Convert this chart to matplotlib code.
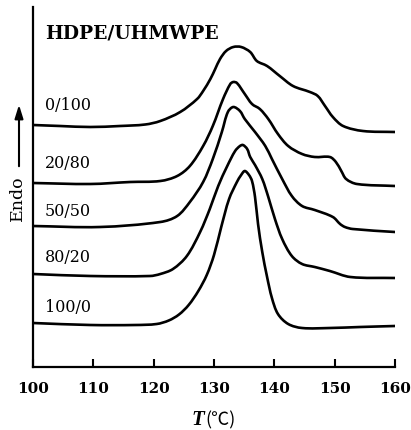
import matplotlib
matplotlib.use("Agg")
import matplotlib.pyplot as plt
import numpy as np
from matplotlib.path import Path
from matplotlib.patches import PathPatch

plt.rcParams['font.family'] = ['DejaVu Serif', 'DejaVu Sans']

# Data (temperature in degC, endothermic signal in arbitrary units)
t_0_100 = [100.0, 104.5, 109.5, 114.4, 118.6, 121.1, 124.4, 127.2, 128.2, 129.4, 130.2, 131.0,
           132.0, 133.2, 134.5, 136.0, 137.1, 138.8, 140.9, 143.1, 145.9, 147.2, 148.4, 149.7,
           151.4, 154.7, 160.0]
s_0_100 = [242, 241, 240, 241, 242.5, 246, 255, 268, 276, 288, 298, 308,
           316, 320, 320, 315, 306, 301, 291, 281, 275, 271, 261, 250,
           241, 236, 235]

t_20_80 = [100.0, 109.5, 116.1, 121.1, 123.9, 126.0, 128.2, 129.8, 131.5, 132.7, 133.2, 133.8, 135.1,
           136.3, 137.6, 139.0, 140.6, 142.3, 144.6, 146.7, 149.2, 150.2, 151.1, 151.9, 153.7, 160.0]
s_20_80 = [184, 183, 185, 186, 191, 201, 221, 241, 268, 283, 285, 284, 273,
           263, 258, 248, 233, 221, 213, 210, 210, 205, 196, 188, 183, 181]

t_50_50 = [100.0, 111.1, 121.1, 123.9, 126.0, 128.2, 129.8, 131.3, 132.3, 133.2, 134.3, 135.1,
           136.8, 138.5, 139.6, 141.3, 142.9, 144.6, 146.7, 149.7, 150.9, 151.7, 153.0, 160.0]
s_50_50 = [141, 140, 145, 151, 165, 185, 208, 235, 255, 260, 256, 248,
           235, 221, 208, 188, 171, 161, 157, 150, 143, 140, 138, 135]

t_80_20 = [100.0, 109.5, 119.4, 121.1, 123.2, 125.5, 127.7, 129.3, 130.7, 132.2, 133.5, 134.3, 134.8,
           135.5, 136.0, 136.8, 138.0, 139.0, 140.1, 141.3, 142.9, 144.6, 146.7, 149.2, 152.6, 160.0]
s_80_20 = [93, 91, 91, 93, 98, 111, 135, 158, 181, 201, 216, 221, 222,
           218, 210, 202, 188, 170, 148, 128, 111, 103, 100, 96, 90, 89]

t_100_0 = [100.0, 109.5, 117.0, 120.5, 122.5, 124.2, 125.8, 127.4, 128.8, 130.0, 131.2, 132.5,
           133.8, 134.5, 135.1, 135.8, 136.3, 136.8, 137.3, 138.0, 138.8, 139.6, 140.6, 142.3,
           144.6, 149.2, 154.2, 160.0]
s_100_0 = [44, 42, 42, 43, 46.5, 52.5, 62, 76, 92, 112, 140, 168,
           185, 192, 196, 192, 186, 170, 143, 115, 90, 69, 53, 43,
           39, 39, 40, 41]

series_labels = ["0/100", "20/80", "50/50", "80/20", "100/0"]
label_y = [263, 205, 156, 110, 60]
xticks = [100, 110, 120, 130, 140, 150, 160]
title = "HDPE/UHMWPE"

fig = plt.figure(figsize=(4.11, 4.31), dpi=100)
ax = fig.add_axes([33 / 411, 63 / 431, 362 / 411, 360 / 431])
ax.set_xlim(100, 160)
ax.set_ylim(0, 360)


def smooth_path(t, s):
    """Bezier path passing through the read points (drawing style only)."""
    pts = np.column_stack([t, s]).astype(float)
    disp = ax.transData.transform(pts)
    n = len(pts)
    d = np.hypot(*np.diff(disp, axis=0).T)
    tang = np.zeros_like(pts)
    tang[1:-1] = pts[2:] - pts[:-2]
    tang[0] = pts[1] - pts[0]
    tang[-1] = pts[-1] - pts[-2]
    verts = [pts[0]]
    codes = [Path.MOVETO]
    for i in range(n - 1):
        a = 1 / 3 if i == 0 else d[i] / (d[i - 1] + d[i]) / 3
        b = 1 / 3 if i == n - 2 else d[i] / (d[i] + d[i + 1]) / 3
        c1 = pts[i] + tang[i] * a
        c2 = pts[i + 1] - tang[i + 1] * b
        verts += [c1, c2, pts[i + 1]]
        codes += [Path.CURVE4] * 3
    return Path(verts, codes)


curves = [(t_0_100, s_0_100), (t_20_80, s_20_80), (t_50_50, s_50_50),
          (t_80_20, s_80_20), (t_100_0, s_100_0)]
for t, s in curves:
    ax.add_patch(PathPatch(smooth_path(t, s), facecolor='none', edgecolor='black',
                           lw=1.9, joinstyle='round', capstyle='round'))

for lab, y in zip(series_labels, label_y):
    ax.text(102.0, y, lab, fontsize=11.5, va='center', ha='left')

ax.text(102.0, 335, title, fontsize=13.5, fontweight='bold', va='center', ha='left')

for sp in ['top', 'right']:
    ax.spines[sp].set_visible(False)
ax.spines['left'].set_linewidth(1.6)
ax.spines['bottom'].set_linewidth(1.6)
ax.set_yticks([])
ax.set_xticks(xticks)
ax.set_xticklabels([str(v) for v in xticks], fontsize=11, fontweight='bold')
ax.tick_params(axis='x', direction='in', length=6, width=1.5, pad=10)

fig.text(204 / 411, 1 - 420 / 431, 'T', fontsize=15, fontstyle='italic', fontweight='bold',
         family=['Liberation Serif'], ha='right', va='center')
fig.text(205 / 411, 1 - 420 / 431, '(℃)', fontsize=13,
         family=['Noto Sans CJK SC', 'DejaVu Sans'], ha='left', va='center')

fig.text(17 / 411, 1 - 198 / 431, 'Endo', fontsize=12.5, rotation=90,
         ha='center', va='center')
ax.annotate('', xy=(19 / 411, 1 - 103 / 431), xytext=(19 / 411, 1 - 170 / 431),
            xycoords='figure fraction', textcoords='figure fraction',
            arrowprops=dict(arrowstyle='-|>,head_length=0.8,head_width=0.25',
                            color='black', lw=1.5))

fig.savefig('out.png', dpi=100)
